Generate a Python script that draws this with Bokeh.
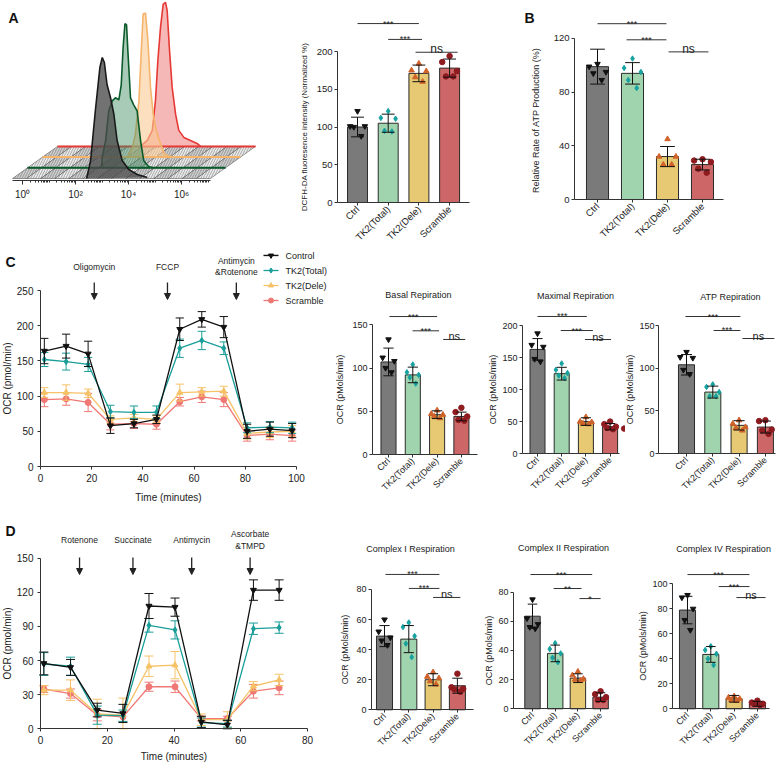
import math
import numpy as np
from bokeh.plotting import figure
from bokeh.layouts import row, column
from bokeh.models import FixedTicker, Arrow, NormalHead, Range1d, ColumnDataSource
from bokeh.core.properties import value
from bokeh.embed import file_html
from bokeh.resources import INLINE

FONT = "Liberation Sans"

# ---------------- data ----------------
groups = ["Ctrl", "TK2(Total)", "TK2(Dele)", "Scramble"]
bar_colors = ["#7a7a7a", "#a0d4ae", "#e6c972", "#cd6767"]
point_colors = ["#111111", "#17a2a0", "#d0622a", "#8e1b1f"]
point_markers = ["inverted_triangle", "diamond", "triangle", "circle"]

series_names = ["Control", "TK2(Total)", "TK2(Dele)", "Scramble"]
series_colors = ["#111111", "#1a9e99", "#f6c267", "#f07874"]
series_markers = ["inverted_triangle", "diamond", "triangle", "circle"]

# Panel A flow histogram (x: log10 intensity, h: height)
hist_black_x = [2.42, 2.57, 2.75, 2.92, 3.01, 3.09, 3.19, 3.32, 3.45, 3.57, 3.76, 4.01, 4.33, 4.71]
hist_black_h = [0, 18, 68, 111, 121, 116, 94, 81, 64, 38, 18, 9, 4, 1]
hist_green_x = [2.42, 2.44, 2.57, 2.69, 2.82, 2.94, 3.07, 3.16, 3.23, 3.30, 3.36, 3.41, 3.51, 3.63, 3.76, 3.89, 4.01, 4.20, 4.39]
hist_green_h = [0, 10, 27, 57, 67, 70, 68, 83, 120, 144, 143, 117, 70, 63, 57, 27, 7, 1, 0]
hist_orange_x = [2.82, 3.01, 3.13, 3.26, 3.35, 3.42, 3.51, 3.60, 3.70, 3.80, 3.92, 4.08, 4.23, 4.39, 4.58]
hist_orange_h = [0, 9, 23, 56, 106, 143, 144, 116, 69, 43, 26, 13, 3, 1, 0]
hist_red_x = [2.75, 3.01, 3.20, 3.32, 3.41, 3.51, 3.61, 3.70, 3.76, 3.85, 3.95, 4.08, 4.20, 4.39, 4.64, 4.89, 5.02]
hist_red_h = [0, 6, 16, 46, 86, 119, 142, 144, 136, 96, 59, 32, 16, 9, 6, 3, 0]
hist_ticks = [0, 2, 4, 6]
hist_tick_labels = ["10\u2070", "10\u00b2", "10\u2074", "10\u2076"]

# Panel A bar: DCFH-DA
dcfh_mean = [100, 105, 171, 178]
dcfh_sd = [13, 12, 11, 12]
dcfh_pts = [[121, 101, 100, 101, 88], [121, 111, 112, 94, 95], [184, 174, 175, 166, 160], [194, 186, 174, 167, 167]]
dcfh_ticks = [0, 50, 100, 150, 200]

# Panel B: relative ATP production
atpr_mean = [99, 94, 32, 26]
atpr_sd = [13, 8, 7.5, 4]
atpr_pts = [[101, 95, 94, 89, 99], [105, 98, 95, 89, 83], [45, 32, 32, 26, 26], [30, 29, 28, 23, 20]]
atpr_ticks = [0, 40, 80, 120]

# Panel C: mito stress test
tc = [1.5, 10, 18.6, 27.3, 36.5, 45.3, 54.4, 63, 71.6, 80.7, 89.6, 98.3]
c_ctrl = [164, 171, 160, 58, 61, 67, 195, 209, 198, 50, 53, 51]
c_ctrl_sd = [18, 17, 18, 11, 6, 6, 16, 11, 15, 10, 10, 10]
c_tot = [152, 149, 145, 78, 77, 77, 168, 179, 168, 55, 56, 55]
c_tot_sd = [10, 12, 10, 9, 9, 9, 13, 13, 9, 7, 8, 8]
c_del = [105, 105, 104, 67, 69, 67, 105, 106, 107, 47, 49, 50]
c_del_sd = [7, 11, 6, 5, 5, 5, 12, 6, 7, 8, 8, 8]
c_scr = [95, 96, 91, 60, 61, 60, 92, 99, 95, 44, 46, 44]
c_scr_sd = [10, 9, 13, 8, 7, 7, 6, 8, 10, 8, 8, 8]
c_drug_x = [21, 49.6, 76.5]
c_drug_names = ["Oligomycin", "FCCP", "Antimycin\n&Rotenone"]

basal_mean = [107, 92, 46, 44]
basal_sd = [16, 9, 4.5, 5]
basal_pts = [[133, 112, 108, 100, 95], [104, 95, 92, 89, 82], [51, 47, 46, 44, 42], [54, 49, 44, 40, 39]]
max_mean = [163, 125, 50, 42]
max_sd = [17, 10, 6, 5]
max_pts = [[188, 170, 167, 148, 144], [141, 131, 126, 122, 118], [57, 50, 49, 47, 46], [50, 46, 42, 40, 38]]
max_extra_val = [39]
atp_mean = [104, 72, 33, 31]
atp_sd = [12, 7, 5.5, 7]
atp_pts = [[119, 113, 112, 98, 93], [81, 78, 72, 67, 67], [39, 35, 31, 30, 27], [39, 38, 28, 27, 23]]

# Panel D: electron flow
td = [1.0, 9.0, 17.0, 24.7, 32.5, 40.3, 48.2, 56.0, 63.8, 71.5]
d_ctrl = [57.5, 54, 16.5, 13.5, 108, 107, 6, 3.5, 122, 122]
d_ctrl_sd = [10, 7, 6, 8, 11, 8, 5, 4, 9, 9]
d_tot = [57, 55, 12, 11.5, 91, 87, 5.5, 4.5, 88, 89]
d_tot_sd = [10, 8, 8, 5, 6, 8, 4, 3, 5, 5]
d_del = [34, 34, 13, 12, 55, 56, 8, 8, 37.5, 43]
d_del_sd = [4, 9, 13, 15, 9, 12, 5, 7, 4, 5]
d_scr = [35, 31, 12, 10.5, 37, 37, 9, 9, 33, 36]
d_scr_sd = [3, 4, 5, 4, 4, 5, 2, 2, 6, 6]
d_drug_x = [11.7, 27.7, 45.3, 62.8]
d_drug_names = ["Rotenone", "Succinate", "Antimycin", "Ascorbate\n&TMPD"]

c1_mean = [49, 47, 20, 16]
c1_sd = [7, 9, 4, 5]
c1_pts = [[60, 52, 48, 46, 43], [58, 55, 49, 44, 35], [25, 22, 21, 19, 17], [24, 15, 14, 13.5, 12]]
c2_mean = [63.5, 38, 21, 8]
c2_sd = [8.3, 5.7, 3, 3]
c2_pts = [[75, 62, 58, 56, 55], [45, 41, 38, 35, 32], [25.5, 23, 20.5, 19.5, 20], [12, 10, 8, 6, 6]]
c4_mean = [79, 43.5, 8, 4]
c4_sd = [11, 6.3, 2.7, 2]
c4_pts = [[91, 89, 80, 71, 63], [50, 47, 44, 40, 35], [10, 9, 8, 7, 6.5], [6.5, 5, 4, 3, 4]]

JITTER = [0.0, -0.24, 0.24, -0.12, 0.12]


# ---------------- helpers ----------------
def base_fig(fx, fw, fy, fh, xmap, ymap, **kw):
    p = figure(width=fw, height=fh,
               x_range=Range1d(xmap(fx), xmap(fx + fw)), y_range=Range1d(ymap(fy + fh), ymap(fy)),
               output_backend="svg", toolbar_location=None, min_border=0, **kw)
    p.frame_align = False
    p.outline_line_color = None
    p.grid.visible = False
    p.background_fill_color = "white"
    p.border_fill_color = "white"
    return p


def style(p, tick_fs="9px", label_fs="9px", xstand=2, ystand=2, xlab_stand=4, ylab_stand=4):
    for ax in p.axis:
        ax.axis_line_color = "#333333"
        ax.axis_line_width = 1
        ax.major_tick_line_color = "#333333"
        ax.major_tick_out = 3
        ax.major_tick_in = 0
        ax.minor_tick_line_color = None
        ax.major_label_text_font = FONT
        ax.major_label_text_font_size = tick_fs
        ax.major_label_text_color = "#222222"
        ax.axis_label_text_font = FONT
        ax.axis_label_text_font_size = label_fs
        ax.axis_label_text_font_style = "normal"
        ax.axis_label_text_color = "#222222"
    for ax in p.xaxis:
        ax.major_label_standoff = xstand
        ax.axis_label_standoff = xlab_stand
    for ax in p.yaxis:
        ax.major_label_standoff = ystand
        ax.axis_label_standoff = ylab_stand


def txt(p, x, y, s, size="9px", align="center", baseline="middle", style_="normal", color="#222222", yoff=0):
    p.text(x=[x], y=[y], text=[s], text_font=value(FONT), text_font_size=value(size),
           text_align=align, text_baseline=baseline, text_font_style=style_, text_color=color,
           y_offset=yoff)


def letter(p, x, y, s):
    txt(p, x, y, s, size="14px", align="left", style_="bold", color="#111111")


def bar_panel(fig, ax_px, c1, sp, y0, k, means, sds, pts, yticks, ylabel, xend_axis,
              sig_pairs, sig_levels, sig_labels, title=None, title_pos=None,
              tick_fs="9px", label_fs="9px", ns_fs="11px", star_fs="9px", bw=0.64, cap=0.42,
              ylab_stand=4, ystand=2):
    fx, fw, fy, fh = fig
    xmap = lambda px: 1 + (px - c1) / sp
    ymap = lambda py: (y0 - py) / k
    p = base_fig(fx, fw, fy, fh, xmap, ymap)
    xs = [i + 1 for i in range(len(groups))]
    p.vbar(x=xs, top=means, bottom=0, width=bw, fill_color=bar_colors,
           line_color="#2b2b2b", line_width=1)
    for i in range(len(groups)):
        vals = sorted(pts[i], reverse=True)
        px_ = [xs[i] + JITTER[j % len(JITTER)] for j in range(len(vals))]
        p.scatter(px_, vals, marker=point_markers[i], size=5.5,
                  fill_color=point_colors[i], line_color=point_colors[i])
    lo = [max(0, m - s) for m, s in zip(means, sds)]
    hi = [m + s for m, s in zip(means, sds)]
    p.segment(xs, lo, xs, hi, line_color="#111111", line_width=1)
    p.segment([x - cap / 2 for x in xs], hi, [x + cap / 2 for x in xs], hi, line_color="#111111", line_width=1)
    p.segment([x - cap / 2 for x in xs], lo, [x + cap / 2 for x in xs], lo, line_color="#111111", line_width=1)
    for (a, b), yv, lab in zip(sig_pairs, sig_levels, sig_labels):
        p.segment([a], [yv], [b], [yv], line_color="#333333", line_width=1)
        if lab == "ns":
            txt(p, (a + b) / 2, yv, lab, size=ns_fs, baseline="alphabetic", yoff=-3)
        else:
            txt(p, (a + b) / 2, yv, lab, size=star_fs, baseline="alphabetic", yoff=0)
    if title:
        txt(p, title_pos[0], title_pos[1], title, size="9px")
    style(p, tick_fs, label_fs, ystand=ystand, ylab_stand=ylab_stand)
    p.xaxis.fixed_location = 0
    p.yaxis.fixed_location = xmap(ax_px)
    p.xaxis.ticker = FixedTicker(ticks=xs)
    p.xaxis.major_label_overrides = {x: g for x, g in zip(xs, groups)}
    p.xaxis.major_label_orientation = math.pi / 4
    p.xaxis.bounds = (xmap(ax_px), xend_axis)
    p.yaxis.ticker = FixedTicker(ticks=yticks)
    p.yaxis.bounds = (0, yticks[-1])
    p.yaxis.axis_label = ylabel
    return p, xmap, ymap


def line_panel(fig, xmap, ymap, t, means_list, sds_list, xticks, yticks, cap, msize,
               xlab_stand=7, ylab_stand=1):
    fx, fw, fy, fh = fig
    p = base_fig(fx, fw, fy, fh, xmap, ymap)
    for idx in reversed(range(len(series_names))):
        m = means_list[idx]
        s = sds_list[idx]
        col = series_colors[idx]
        lo = [max(0, a - b) for a, b in zip(m, s)]
        hi = [a + b for a, b in zip(m, s)]
        p.segment(t, lo, t, hi, line_color=col, line_width=1)
        p.segment([x - cap / 2 for x in t], hi, [x + cap / 2 for x in t], hi, line_color=col, line_width=1)
        p.segment([x - cap / 2 for x in t], lo, [x + cap / 2 for x in t], lo, line_color=col, line_width=1)
        p.line(t, m, line_color=col, line_width=1.3)
        p.scatter(t, m, marker=series_markers[idx], size=msize, fill_color=col, line_color=col)
    style(p, tick_fs="10px", label_fs="10px", xstand=4, ystand=4, xlab_stand=xlab_stand, ylab_stand=ylab_stand)
    p.xaxis.fixed_location = 0
    p.yaxis.fixed_location = 0
    p.xaxis.ticker = FixedTicker(ticks=xticks)
    p.xaxis.bounds = (xticks[0], xticks[-1])
    p.yaxis.ticker = FixedTicker(ticks=yticks)
    p.yaxis.bounds = (yticks[0], yticks[-1])
    p.xaxis.axis_label = "Time (minutes)"
    p.yaxis.axis_label = "OCR (pmol/min)"
    return p


def drugs(p, xs, names, y_text, y0, y1):
    for x, name in zip(xs, names):
        lines = name.split("\n")
        n = len(lines)
        for j, ln in enumerate(lines):
            txt(p, x, y_text, ln, size="8.5px", yoff=(j - (n - 1) / 2) * 11.5)
    src = ColumnDataSource(dict(x=xs, y0=[y0] * len(xs), y1=[y1] * len(xs)))
    p.add_layout(Arrow(end=NormalHead(size=6, fill_color="#222222", line_color="#222222", line_width=1),
                       x_start="x", y_start="y0", x_end="x", y_end="y1", source=src,
                       line_color="#222222", line_width=1.3))


# ---------------- Row 1 ----------------
hx = lambda px: (px - 22) / 26.5
hy = lambda py: 178 - py
hist = base_fig(0, 260, 0, 250, hx, hy, y_axis_location=None)
FL, FR = hx(12), hx(210)
SX, SY = 15 / 26.5, 10.7
ncell = 14
edges = np.linspace(FL, FR, ncell + 1)
cxs, cys, cfill, chatch = [], [], [], []
for kk in range(3):
    for i in range(ncell):
        a, b = edges[i], edges[i + 1]
        cxs.append([a + SX * kk, b + SX * kk, b + SX * (kk + 1), a + SX * (kk + 1)])
        cys.append([SY * kk, SY * kk, SY * (kk + 1), SY * (kk + 1)])
        dark = (i + kk) % 2 == 0
        cfill.append("#a3a3a3" if dark else "#ececec")
        chatch.append("#f4f4f4" if dark else "#8a8a8a")
hist.patches(cxs, cys, fill_color=cfill, line_color="#444444", line_width=0.5,
             hatch_pattern="/", hatch_color=chatch, hatch_scale=5, hatch_weight=0.7)
layers = [
    (hist_red_x, hist_red_h, "#e53935", "#ef7b7b", 0.55, 3),
    (hist_orange_x, hist_orange_h, "#f5b46c", "#fac993", 0.6, 2),
    (hist_green_x, hist_green_h, "#0b5a2b", "#3f8b60", 0.45, 1),
    (hist_black_x, hist_black_h, "#1a1a1a", "#4a4a4a", 0.78, 0),
]
for lx, lh, lc, fc, fa, kk in layers:
    xs_ = [x + SX * kk for x in lx]
    ys_ = [SY * kk + h for h in lh]
    hist.patch(xs_, ys_, fill_color=fc, fill_alpha=fa, line_color=None)
    if kk > 0:
        hist.line([FL + SX * kk, FR + SX * kk], [SY * kk, SY * kk], line_color=lc, line_width=2)
    hist.line(xs_, ys_, line_color=lc, line_width=1.6)
style(hist, tick_fs="10px", xstand=4)
hist.xaxis.fixed_location = hy(180)
hist.xaxis.ticker = FixedTicker(ticks=hist_ticks,
                                minor_ticks=[float(np.log10(m * 10.0 ** d)) for d in range(8) for m in range(1, 10)
                                             if np.log10(m * 10.0 ** d) <= FR])
hist.xaxis.major_label_overrides = {t: s for t, s in zip(hist_ticks, hist_tick_labels)}
hist.xaxis.bounds = (FL, FR)
hist.xaxis.major_tick_out = 4
hist.xaxis.minor_tick_line_color = "#333333"
hist.xaxis.minor_tick_out = 2
hist.xaxis.minor_tick_in = 0
letter(hist, hx(8), hy(17), "A")

abar, ax_, ay_ = bar_panel((260, 260, 0, 250), 337, 357, 30.7, 202, 0.755,
                           dcfh_mean, dcfh_sd, dcfh_pts, dcfh_ticks,
                           "DCFH-DA fluoresence intensity (Normalized %)", 4.65,
                           [(1, 3), (2, 3.1), (2.89, 4.26)], [237, 216, 199], ["***", "***", "ns"],
                           tick_fs="9.5px", label_fs="8px", ns_fs="12px", bw=0.65, ylab_stand=5)

bbar, bx_, by_ = bar_panel((520, 263, 0, 250), 574, 597, 35, 199, 1.342,
                           atpr_mean, atpr_sd, atpr_pts, atpr_ticks,
                           "Relative Rate of  ATP Production (%)", 4.6,
                           [(1, 2.97), (1.83, 2.97), (3.03, 4.17)], [131, 119, 110], ["***", "***", "ns"],
                           tick_fs="9.5px", label_fs="9px", ns_fs="12px", bw=0.63, ylab_stand=10)
letter(bbar, bx_(524), by_(17), "B")

# ---------------- Row 2 ----------------
cxm = lambda px: (px - 40) / 2.56
cym = lambda py: (466 - py) / 0.704
cline = line_panel((0, 335, 250, 265), cxm, cym, tc,
                   [c_ctrl, c_tot, c_del, c_scr], [c_ctrl_sd, c_tot_sd, c_del_sd, c_scr_sd],
                   [0, 20, 40, 60, 80, 100], [0, 50, 100, 150, 200, 250], 3.2, 6)
drugs(cline, c_drug_x, c_drug_names, cym(266), cym(282), cym(299))
leg_y = [cym(255), cym(270), cym(285), cym(300)]
for i, nm in enumerate(series_names):
    cline.segment([cxm(263)], [leg_y[i]], [cxm(278)], [leg_y[i]], line_color=series_colors[i], line_width=1.3)
    cline.scatter([cxm(270.5)], [leg_y[i]], marker=series_markers[i], size=5,
                  fill_color=series_colors[i], line_color=series_colors[i])
    txt(cline, cxm(285), leg_y[i], nm, size="9px", align="left")
letter(cline, cxm(5), cym(261), "C")

basal, _, _ = bar_panel((335, 145, 250, 265), 372, 388, 24.3, 454, 0.865,
                        basal_mean, basal_sd, basal_pts, [0, 50, 100, 150], "OCR (pMols/min)", 4.66,
                        [(1.04, 3.0), (1.99, 3.08), (3.25, 4.16)], [159.5, 143, 133], ["***", "***", "ns"],
                        title="Basal Repiration", title_pos=(2.23, 184), bw=0.62, ylab_stand=4)

maxr, _, _ = bar_panel((480, 145, 250, 265), 522, 537, 24.2, 453, 0.6385,
                       max_mean, max_sd, max_pts, [0, 50, 100, 150, 200], "OCR (pMols/min)", 4.37,
                       [(1, 3.04), (1.96, 3.29), (2.96, 4.04)], [214.6, 192.6, 178.5], ["***", "***", "ns"],
                       title="Maximal Repiration", title_pos=(2.57, 247), bw=0.62, ylab_stand=1)
maxr.scatter([4.58], max_extra_val, marker="circle", size=5.5, fill_color=point_colors[3], line_color=point_colors[3])

atpb, _, _ = bar_panel((625, 158, 250, 265), 658, 686, 26.3, 453, 0.853,
                       atp_mean, atp_sd, atp_pts, [0, 50, 100, 150], "OCR (pMols/min)", 4.38,
                       [(0.96, 3.05), (2.03, 3.05), (3.13, 4.34)], [160.6, 144.2, 134.8], ["***", "***", "ns"],
                       title="ATP Repiration", title_pos=(2.67, 183), bw=0.61, ylab_stand=1, ystand=1)

# ---------------- Row 3 ----------------
dxm = lambda px: (px - 40) / 3.3375
dym = lambda py: (728.3 - py) / 1.137
dline = line_panel((0, 338, 515, 248), dxm, dym, td,
                   [d_ctrl, d_tot, d_del, d_scr], [d_ctrl_sd, d_tot_sd, d_del_sd, d_scr_sd],
                   [0, 20, 40, 60, 80], [0, 30, 60, 90, 120, 150], 2.7, 6, xlab_stand=4)
drugs(dline, d_drug_x, d_drug_names, dym(539.5), dym(557), dym(574))
letter(dline, dxm(5), dym(530), "D")

cI, _, _ = bar_panel((338, 144, 515, 248), 371, 384, 24.3, 709.3, 1.504,
                     c1_mean, c1_sd, c1_pts, [0, 20, 40, 60, 80], "OCR (pMols/min)", 4.66,
                     [(1.04, 3.26), (2.0, 3.26), (3.0, 4.12)], [90, 80.7, 74.7], ["***", "***", "ns"],
                     title="Complex I Respiration", title_pos=(2.07, 107), bw=0.66, ylab_stand=3)

cII, _, _ = bar_panel((482, 154, 515, 248), 513, 532, 22.7, 708.3, 1.458,
                      c2_mean, c2_sd, c2_pts, [0, 20, 40, 60, 80], "OCR (pMols/min)", 4.35,
                      [(0.91, 3.63), (1.93, 3.16), (3.07, 4.0)], [92.1, 82.5, 75.6], ["***", "**", "*"],
                      title="Complex II Respiration", title_pos=(2.37, 110), bw=0.68, ylab_stand=1)

cIV, _, _ = bar_panel((636, 147, 515, 248), 672, 687, 23.3, 708.3, 1.25,
                      c4_mean, c4_sd, c4_pts, [0, 20, 40, 60, 80, 100], "OCR (pMols/min)", 4.52,
                      [(1.0, 3.66), (2.34, 3.66), (3.1, 4.35)], [107.4, 97.8, 89], ["***", "***", "ns"],
                      title="Complex IV Respiration", title_pos=(2.55, 128), bw=0.69, ylab_stand=1)

layout = column(row(hist, abar, bbar), row(cline, basal, maxr, atpb), row(dline, cI, cII, cIV))

open("out.html", "w").write(file_html(layout, INLINE, title="TK2 figure"))
